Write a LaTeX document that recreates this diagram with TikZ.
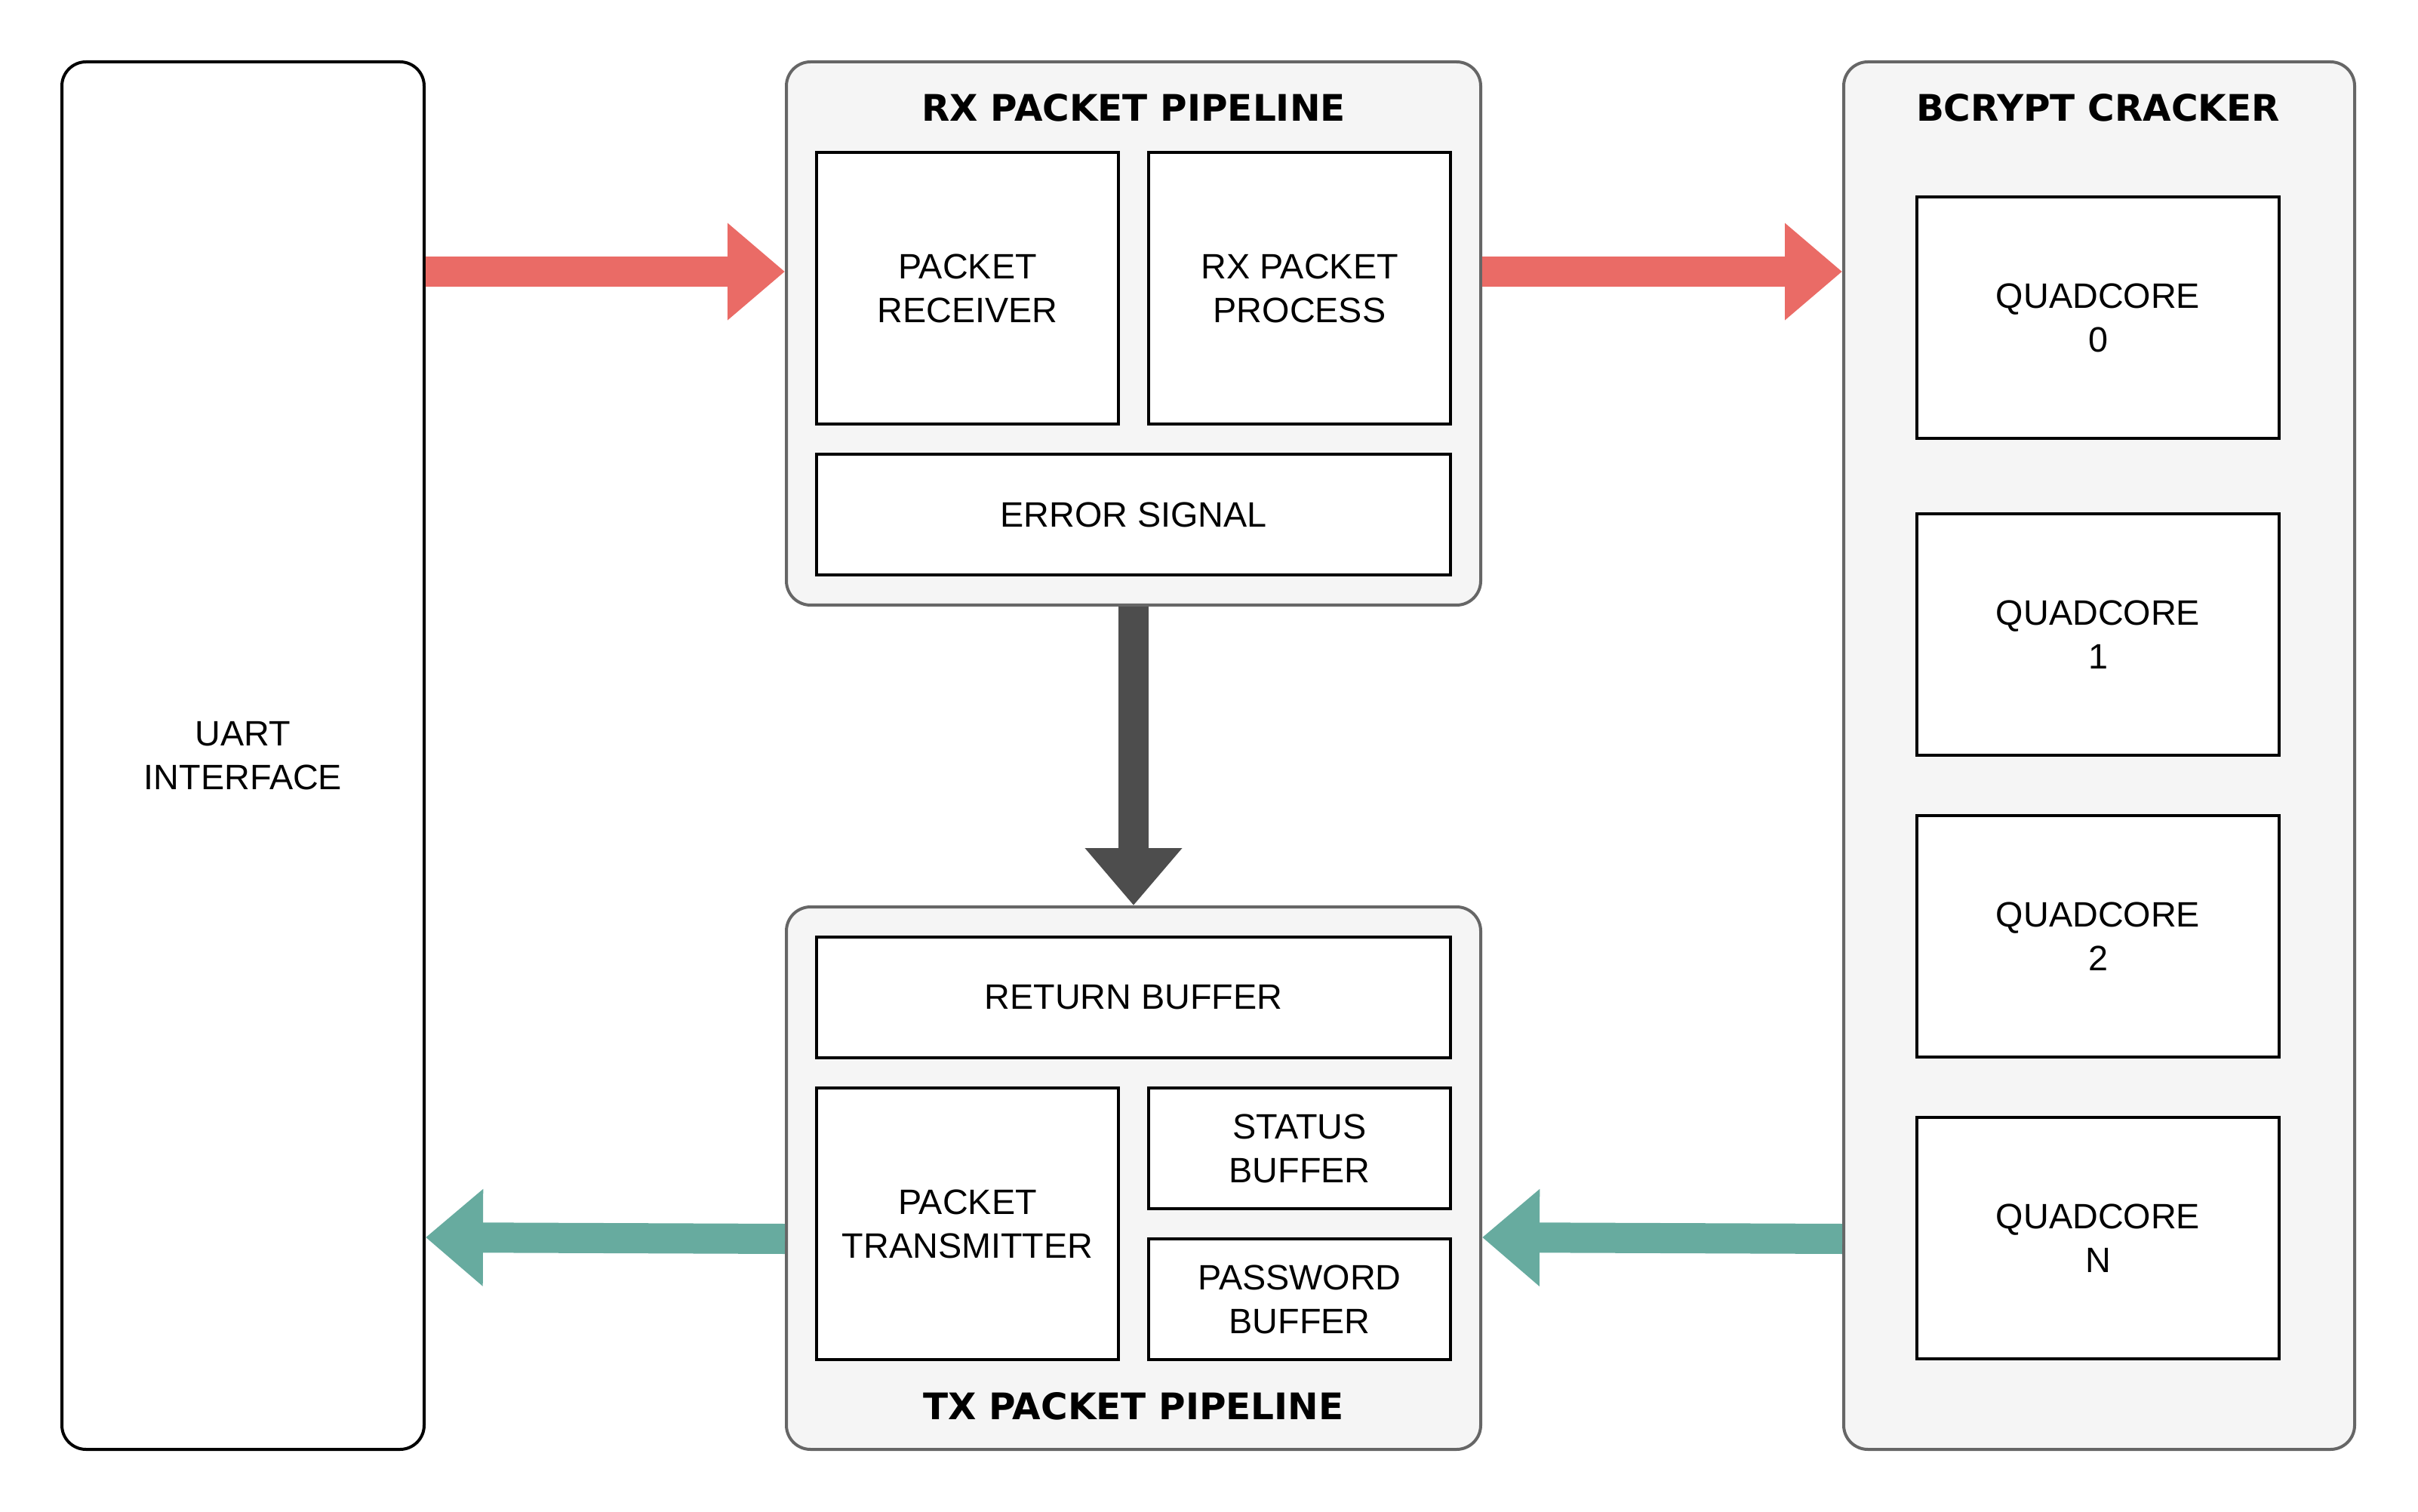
\documentclass[tikz,border=0pt]{standalone}
\usepackage{fontspec}
\setmainfont{Liberation Sans}
\newfontfamily\titlefont{DejaVu Sans}
\usetikzlibrary{arrows.meta}
\definecolor{redc}{HTML}{EA6B66}
\definecolor{tealc}{HTML}{67AB9F}
\definecolor{darkc}{HTML}{4D4D4D}
\definecolor{grpfill}{HTML}{F5F5F5}
\definecolor{grpdraw}{HTML}{666666}
\tikzset{
  group/.style={draw=grpdraw, fill=grpfill, line width=0.04cm, rounded corners=0.32cm, inner sep=0pt},
  uartbox/.style={draw=black, fill=white, line width=0.04cm, rounded corners=0.32cm, inner sep=0pt, align=center, font=\fontsize{13.3}{16.5}\selectfont},
  blk/.style={draw=black, fill=white, line width=0.04cm, inner sep=0pt, align=center, font=\fontsize{13.3}{16.5}\selectfont},
  ttl/.style={font=\titlefont\bfseries\fontsize{13.8}{16}\selectfont, inner sep=0pt},
  fatarrow/.style={line width=0.4cm, -{Triangle[width=1.24cm,length=0.76cm]}},
}
\begin{document}
\begin{tikzpicture}
\useasboundingbox (0,0) rectangle (32.04,-20.04);
% outer containers
\node[uartbox, minimum width=4.8cm, minimum height=18.39cm] (uart) at (3.22,-10.015) {UART\\INTERFACE};
\node[group, minimum width=9.2cm, minimum height=7.2cm] (rx) at (15.02,-4.42) {};
\node[group, minimum width=9.2cm, minimum height=7.19cm] (tx) at (15.02,-15.615) {};
\node[group, minimum width=6.77cm, minimum height=18.39cm] (bc) at (27.815,-10.015) {};
% titles
\node[ttl] (rxt) at (15.02,-1.43) {RX PACKET PIPELINE};
\node[ttl] (txt) at (15.02,-18.64) {TX PACKET PIPELINE};
\node[ttl] (bct) at (27.80,-1.43) {BCRYPT CRACKER};
% RX inner blocks
\node[blk, minimum width=4cm, minimum height=3.6cm] (recv) at (12.82,-3.82) {PACKET\\RECEIVER};
\node[blk, minimum width=4cm, minimum height=3.6cm] (proc) at (17.22,-3.82) {RX PACKET\\PROCESS};
\node[blk, minimum width=8.4cm, minimum height=1.6cm] (err) at (15.02,-6.82) {ERROR SIGNAL};
% TX inner blocks
\node[blk, minimum width=8.4cm, minimum height=1.6cm] (ret) at (15.02,-13.22) {RETURN BUFFER};
\node[blk, minimum width=4cm, minimum height=3.6cm] (trans) at (12.82,-16.22) {PACKET\\TRANSMITTER};
\node[blk, minimum width=4cm, minimum height=1.6cm] (stat) at (17.22,-15.22) {STATUS\\BUFFER};
\node[blk, minimum width=4cm, minimum height=1.6cm] (pass) at (17.22,-17.22) {PASSWORD\\BUFFER};
% quadcores
\node[blk, minimum width=4.8cm, minimum height=3.2cm] (q0) at (27.80,-4.21) {QUADCORE\\0};
\node[blk, minimum width=4.8cm, minimum height=3.2cm] (q1) at (27.80,-8.41) {QUADCORE\\1};
\node[blk, minimum width=4.8cm, minimum height=3.2cm] (q2) at (27.80,-12.41) {QUADCORE\\2};
\node[blk, minimum width=4.8cm, minimum height=3.2cm] (qn) at (27.80,-16.41) {QUADCORE\\N};
% arrows
\draw[fatarrow, draw=redc, fill=redc] (uart.east |- 0,-3.60) -- (rx.west |- 0,-3.60);
\draw[fatarrow, draw=redc, fill=redc] (rx.east |- 0,-3.60) -- (bc.west |- 0,-3.60);
\draw[fatarrow, draw=darkc, fill=darkc] (rx.south) -- (tx.north);
\draw[fatarrow, draw=tealc, fill=tealc] (bc.west |- 0,-16.42) -- (rx.east |- 0,-16.40);
\draw[fatarrow, draw=tealc, fill=tealc] (tx.west |- 0,-16.42) -- (uart.east |- 0,-16.40);
\end{tikzpicture}
\end{document}
